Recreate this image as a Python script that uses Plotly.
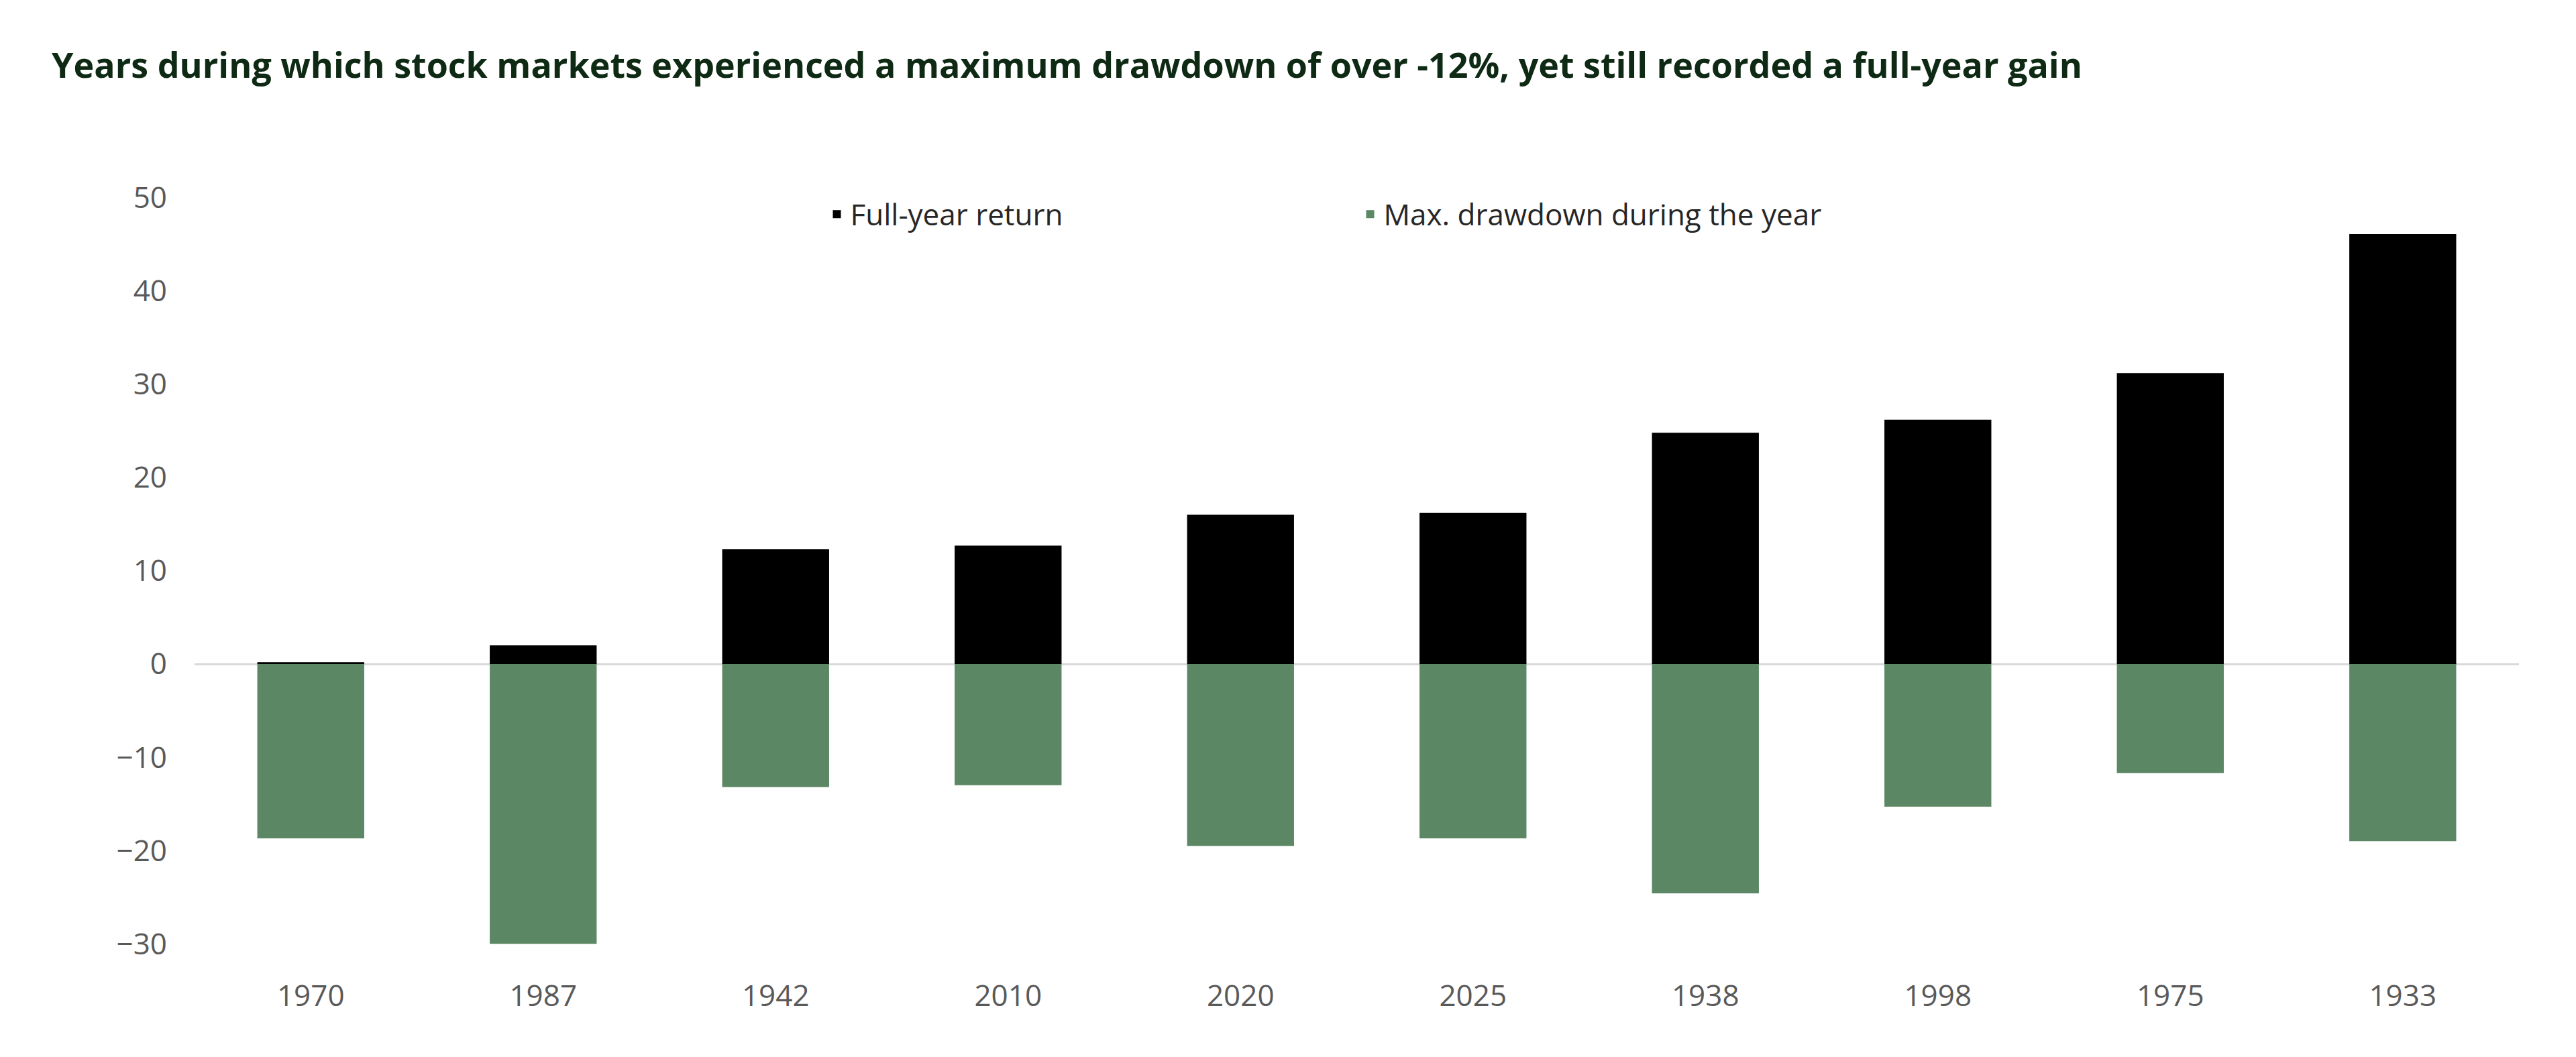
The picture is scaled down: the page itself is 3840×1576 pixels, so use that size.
import plotly.graph_objects as go

years = ["1970", "1987", "1942", "2010", "2020", "2025", "1938", "1998", "1975", "1933"]
full_year_return = [0.2, 2.0, 12.3, 12.7, 16.0, 16.2, 24.8, 26.2, 31.2, 46.1]
max_drawdown = [-18.7, -30.0, -13.2, -13.0, -19.5, -18.7, -24.6, -15.3, -11.7, -19.0]

fig = go.Figure()
fig.add_trace(go.Bar(x=years, y=full_year_return, name="Full-year return",
                     marker=dict(color="black", line=dict(width=0)), width=0.46))
fig.add_trace(go.Bar(x=years, y=max_drawdown, name="Max. drawdown during the year",
                     marker=dict(color="#5b8764", line=dict(width=0)), width=0.46))

fig.update_layout(
    barmode="relative",
    width=3840, height=1576,
    paper_bgcolor="white", plot_bgcolor="white",
    font=dict(family="Open Sans", size=44, color="#595959"),
    margin=dict(l=282, r=93, t=259, b=149),
    title=dict(text="<b>Years during which stock markets experienced a maximum drawdown of over -12%, yet still recorded a full-year gain</b>",
               x=0.018, xanchor="left", y=0.943, yanchor="middle",
               font=dict(family="Open Sans", size=52, color="#0f2a14")),
    legend=dict(orientation="h", x=0.5, xanchor="center", y=0.955, yanchor="middle",
                font=dict(size=44, color="#262626"), entrywidth=750, bgcolor="rgba(0,0,0,0)"),
    showlegend=True,
)
fig.update_yaxes(range=[-32, 52], tickvals=[-30, -20, -10, 0, 10, 20, 30, 40, 50],
                 ticksuffix="%", showgrid=False, zeroline=True, zerolinecolor="#d9d9d9",
                 zerolinewidth=3, ticklabelstandoff=40)
fig.update_xaxes(showgrid=False, showline=False, ticks="", ticklabelstandoff=20)

fig.write_html("out.html")
